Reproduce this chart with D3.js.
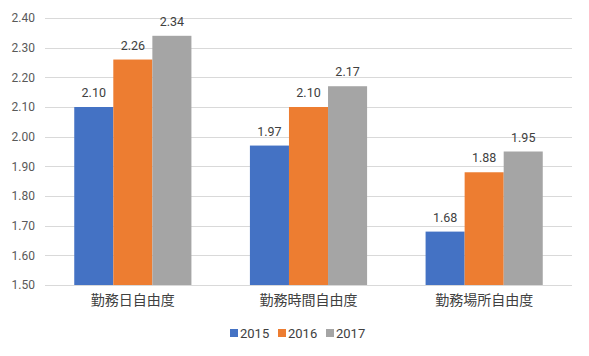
<!DOCTYPE html>
<html><head><meta charset="utf-8">
<script src="https://cdn.jsdelivr.net/npm/d3@7"></script>
<style>body{margin:0;background:#fff;}svg{display:block;}</style>
</head><body>
<svg id="c" width="589" height="356"></svg>
<script>
const categories = ["勤務日自由度", "勤務時間自由度", "勤務場所自由度"];
const seriesNames = ["2015", "2016", "2017"];
const values2015 = [2.10, 1.97, 1.68];
const values2016 = [2.26, 2.10, 1.88];
const values2017 = [2.34, 2.17, 1.95];
const yTicks = [1.50, 1.60, 1.70, 1.80, 1.90, 2.00, 2.10, 2.20, 2.30, 2.40];
const colors = ["#4472C4", "#ED7D31", "#A5A5A5"];

const series = [values2015, values2016, values2017];
const svg = d3.select("#c");
const m = {l: 45, r: 17, t: 18, b: 71};
const W = 589, H = 356;
const x0 = d3.scaleBand().domain(categories).range([m.l, W - m.r]).paddingInner(0.333).paddingOuter(0.1665);
const x1 = d3.scaleBand().domain(seriesNames).range([0, x0.bandwidth()]);
const y = d3.scaleLinear().domain([1.5, 2.4]).range([H - m.b, m.t]);
const font = "Roboto, 'Noto Sans', sans-serif";

// grid
svg.append("g").selectAll("line").data(yTicks).join("line")
  .attr("x1", m.l).attr("x2", W - m.r)
  .attr("y1", d => Math.round(y(d)) + 0.5).attr("y2", d => Math.round(y(d)) + 0.5)
  .attr("stroke", "#d9d9d9").attr("stroke-width", 1);

// y axis labels
const yAxis = d3.axisLeft(y).tickValues(yTicks).tickFormat(d3.format(".2f")).tickSize(0).tickPadding(0);
const ya = svg.append("g").attr("transform", `translate(${m.l - 10},0)`).call(yAxis);
ya.select(".domain").remove();
ya.selectAll("text").attr("font-family", font).attr("font-size", 12).attr("fill", "#595959");

// bars
const g = svg.append("g").selectAll("g").data(categories).join("g")
  .attr("transform", d => `translate(${x0(d)},0)`);
g.each(function(cat, ci) {
  const sel = d3.select(this);
  seriesNames.forEach((s, si) => {
    const v = series[si][ci];
    sel.append("rect").attr("x", x1(s)).attr("width", x1.bandwidth())
      .attr("y", y(v)).attr("height", y(1.5) - y(v)).attr("fill", colors[si]);
    sel.append("text").attr("x", x1(s) + x1.bandwidth() / 2).attr("y", y(v) - 10)
      .attr("text-anchor", "middle").attr("font-family", font).attr("font-size", 12.5)
      .attr("fill", "#404040").text(d3.format(".2f")(v));
  });
});

// x axis labels
const xAxis = d3.axisBottom(x0).tickSize(0).tickPadding(0);
const xa = svg.append("g").attr("transform", `translate(0,${y(1.5) + 10})`).call(xAxis);
xa.select(".domain").remove();
xa.selectAll("text").attr("font-family", "'Noto Sans CJK JP', sans-serif").attr("font-size", 14)
  .attr("fill", "#404040");

// legend
const legendX = [230, 278, 326];
const lg = svg.append("g").selectAll("g").data(seriesNames).join("g")
  .attr("transform", (d, i) => `translate(${legendX[i]},${333})`);
lg.append("rect").attr("x", 0).attr("y", -4).attr("width", 8).attr("height", 8).attr("fill", (d, i) => colors[i]);
lg.append("text").attr("x", 10).attr("y", 0).attr("dy", "0.35em").attr("font-family", font)
  .attr("font-size", 13).attr("fill", "#404040").text(d => d);
</script>
</body></html>
